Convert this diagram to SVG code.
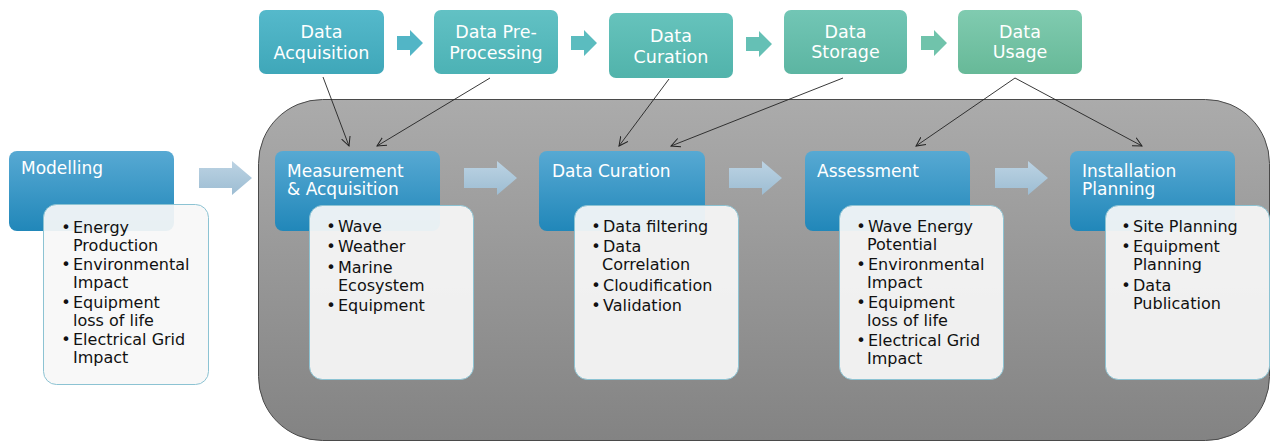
<svg xmlns="http://www.w3.org/2000/svg" width="1271" height="441" viewBox="0 0 1271 441">
<style>
.top{font-family:"DejaVu Sans",sans-serif;font-size:17.5px;fill:#ffffff;text-anchor:middle}
.hdr{font-family:"DejaVu Sans",sans-serif;font-size:17px;fill:#ffffff}
.li{font-family:"DejaVu Sans",sans-serif;font-size:16px;fill:#111111}
.bu{font-family:"DejaVu Sans",sans-serif;font-size:16px;fill:#111111;text-anchor:middle}
.blue{fill:url(#gBlue)}
.card{fill:#f7f7f7;fill-opacity:0.93;stroke:#8cc3d3;stroke-width:1}
.conn{fill:none;stroke:#222222;stroke-width:0.9;marker-end:url(#open)}
.big{fill:url(#gArrow)}
</style>
<defs>
<linearGradient id="gGray" x1="0" y1="0" x2="0" y2="1"><stop offset="0" stop-color="#ababab"/><stop offset="1" stop-color="#838383"/></linearGradient>
<linearGradient id="gBlue" x1="0" y1="0" x2="0" y2="1"><stop offset="0" stop-color="#57a9d3"/><stop offset="1" stop-color="#2187b9"/></linearGradient>
<linearGradient id="gArrow" x1="0" y1="0" x2="0" y2="1"><stop offset="0" stop-color="#bcd3e3"/><stop offset="1" stop-color="#9dbdd3"/></linearGradient>
<linearGradient id="t1" x1="0" y1="0" x2="0" y2="1"><stop offset="0" stop-color="#55b9cb"/><stop offset="1" stop-color="#3fa7b9"/></linearGradient>
<linearGradient id="t2" x1="0" y1="0" x2="0" y2="1"><stop offset="0" stop-color="#62c1c4"/><stop offset="1" stop-color="#4cb2b5"/></linearGradient>
<linearGradient id="t3" x1="0" y1="0" x2="0" y2="1"><stop offset="0" stop-color="#66c3bc"/><stop offset="1" stop-color="#51b3ab"/></linearGradient>
<linearGradient id="t4" x1="0" y1="0" x2="0" y2="1"><stop offset="0" stop-color="#72c6b5"/><stop offset="1" stop-color="#5cb5a2"/></linearGradient>
<linearGradient id="t5" x1="0" y1="0" x2="0" y2="1"><stop offset="0" stop-color="#80cbb0"/><stop offset="1" stop-color="#67b998"/></linearGradient>
<path id="sa" d="M0,6 H13 V0 L26,13 L13,26 V20 H0 Z"/>
<path id="ba" d="M0,7 H33 V0 L53,17 L33,34 V27 H0 Z"/>
<marker id="open" viewBox="0 0 10 10" refX="9" refY="5" markerWidth="10" markerHeight="10" markerUnits="userSpaceOnUse" orient="auto">
<path d="M0,0.5 L9,5 L0,9.5" fill="none" stroke="#222222" stroke-width="1"/>
</marker>
</defs>

<g id="container">
<rect x="258.5" y="99.5" width="1011" height="341" rx="64" ry="64" fill="url(#gGray)" stroke="#4a4a4a" stroke-width="1"/>
</g>

<g id="step-data-acquisition">
<rect x="259" y="10" width="125" height="64" rx="7" fill="url(#t1)"/>
<text class="top" x="321.5" y="38">Data</text>
<text class="top" x="321.5" y="59">Acquisition</text>
</g>
<g id="step-data-preprocessing">
<rect x="434" y="10" width="124" height="64" rx="7" fill="url(#t2)"/>
<text class="top" x="496" y="38">Data Pre-</text>
<text class="top" x="496" y="59">Processing</text>
</g>
<g id="step-data-curation">
<rect x="609" y="13" width="124" height="65" rx="7" fill="url(#t3)"/>
<text class="top" x="671" y="42">Data</text>
<text class="top" x="671" y="63">Curation</text>
</g>
<g id="step-data-storage">
<rect x="784" y="10" width="123" height="64" rx="7" fill="url(#t4)"/>
<text class="top" x="845.5" y="38">Data</text>
<text class="top" x="845.5" y="58">Storage</text>
</g>
<g id="step-data-usage">
<rect x="958" y="10" width="124" height="64" rx="7" fill="url(#t5)"/>
<text class="top" x="1020" y="38">Data</text>
<text class="top" x="1020" y="58">Usage</text>
</g>

<g id="top-arrows">
<use href="#sa" x="397" y="30" fill="#52b5c6"/>
<use href="#sa" x="571" y="30" fill="#5bbcbf"/>
<use href="#sa" x="746" y="31" fill="#65c0b5"/>
<use href="#sa" x="921" y="30" fill="#70c3ab"/>
</g>

<g id="modelling">
<rect class="blue" x="9" y="151" width="165" height="80" rx="8"/>
<text class="hdr" x="21" y="174">Modelling</text>
<rect class="card" x="43.5" y="204.5" width="165" height="180" rx="13"/>
<text class="bu" x="66" y="233">•</text><text class="li" x="73" y="233">Energy</text>
<text class="li" x="73" y="250.5">Production</text>
<text class="bu" x="66" y="270">•</text><text class="li" x="73" y="270">Environmental</text>
<text class="li" x="73" y="288">Impact</text>
<text class="bu" x="66" y="308">•</text><text class="li" x="73" y="308">Equipment</text>
<text class="li" x="73" y="325.5">loss of life</text>
<text class="bu" x="66" y="345">•</text><text class="li" x="73" y="345">Electrical Grid</text>
<text class="li" x="73" y="363">Impact</text>
</g>

<g id="measurement">
<rect class="blue" x="275" y="151" width="165" height="80" rx="8"/>
<text class="hdr" x="287" y="177">Measurement</text>
<text class="hdr" x="287" y="195">&amp; Acquisition</text>
<rect class="card" x="309.5" y="205.5" width="164" height="174" rx="13"/>
<text class="bu" x="331" y="232">•</text><text class="li" x="338" y="232">Wave</text>
<text class="bu" x="331" y="252">•</text><text class="li" x="338" y="252">Weather</text>
<text class="bu" x="331" y="273">•</text><text class="li" x="338" y="273">Marine</text>
<text class="li" x="338" y="291">Ecosystem</text>
<text class="bu" x="331" y="311">•</text><text class="li" x="338" y="311">Equipment</text>
</g>

<g id="data-curation">
<rect class="blue" x="539" y="151" width="166" height="80" rx="8"/>
<text class="hdr" x="552" y="177">Data Curation</text>
<rect class="card" x="574.5" y="205.5" width="164" height="174" rx="13"/>
<text class="bu" x="596" y="232">•</text><text class="li" x="603" y="232">Data filtering</text>
<text class="bu" x="596" y="252">•</text><text class="li" x="603" y="252">Data</text>
<text class="li" x="602" y="270">Correlation</text>
<text class="bu" x="596" y="291">•</text><text class="li" x="603" y="291">Cloudification</text>
<text class="bu" x="596" y="311">•</text><text class="li" x="603" y="311">Validation</text>
</g>

<g id="assessment">
<rect class="blue" x="805" y="151" width="165" height="80" rx="8"/>
<text class="hdr" x="817" y="177">Assessment</text>
<rect class="card" x="839.5" y="205.5" width="164" height="174" rx="13"/>
<text class="bu" x="861" y="232">•</text><text class="li" x="868" y="232">Wave Energy</text>
<text class="li" x="867" y="250">Potential</text>
<text class="bu" x="861" y="270">•</text><text class="li" x="868" y="270">Environmental</text>
<text class="li" x="867" y="288">Impact</text>
<text class="bu" x="861" y="308">•</text><text class="li" x="868" y="308">Equipment</text>
<text class="li" x="867" y="326">loss of life</text>
<text class="bu" x="861" y="346">•</text><text class="li" x="868" y="346">Electrical Grid</text>
<text class="li" x="867" y="364">Impact</text>
</g>

<g id="installation-planning">
<rect class="blue" x="1070" y="151" width="165" height="80" rx="8"/>
<text class="hdr" x="1082" y="177">Installation</text>
<text class="hdr" x="1082" y="195">Planning</text>
<rect class="card" x="1105.5" y="205.5" width="164" height="174" rx="13"/>
<text class="bu" x="1126" y="232">•</text><text class="li" x="1133" y="232">Site Planning</text>
<text class="bu" x="1126" y="252">•</text><text class="li" x="1133" y="252">Equipment</text>
<text class="li" x="1133" y="270">Planning</text>
<text class="bu" x="1126" y="291">•</text><text class="li" x="1133" y="291">Data</text>
<text class="li" x="1133" y="309">Publication</text>
</g>

<g id="flow-arrows">
<use class="big" href="#ba" x="199" y="161"/>
<use class="big" href="#ba" x="464" y="161"/>
<use class="big" href="#ba" x="729" y="161"/>
<use class="big" href="#ba" x="995" y="161"/>
</g>

<g id="connectors">
<line class="conn" x1="323" y1="77" x2="349" y2="146"/>
<line class="conn" x1="490" y1="78" x2="377" y2="146"/>
<line class="conn" x1="669" y1="79" x2="619" y2="146"/>
<line class="conn" x1="843" y1="78" x2="671" y2="146"/>
<line class="conn" x1="1015" y1="78" x2="916" y2="146"/>
<line class="conn" x1="1015" y1="78" x2="1142" y2="146"/>
</g>
</svg>
